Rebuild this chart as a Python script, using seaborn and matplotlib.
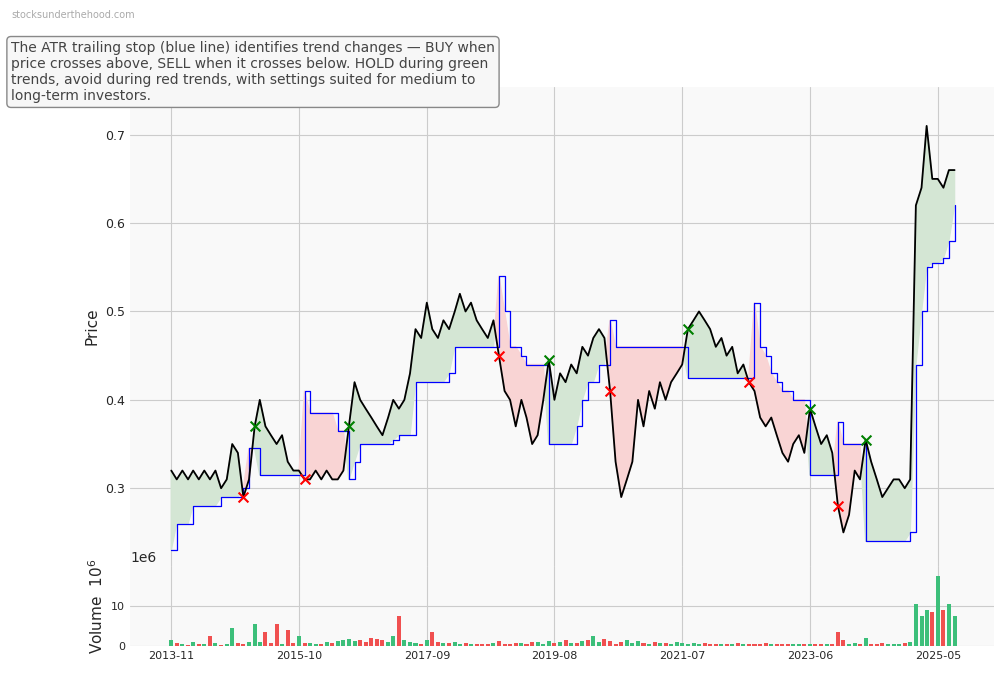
import numpy as np
import pandas as pd
import matplotlib
matplotlib.use("Agg")
import matplotlib.pyplot as plt
import matplotlib.ticker as mticker
import seaborn as sns

start_month = "2013-11"
price = [0.32,0.31,0.32,0.31,0.32,0.31,0.32,0.31,0.32,0.30,0.31,0.35,0.34,0.29,0.31,0.37,0.40,0.37,0.36,0.35,
         0.36,0.33,0.32,0.32,0.31,0.31,0.32,0.31,0.32,0.31,0.31,0.32,0.37,0.42,0.40,0.39,0.38,0.37,0.36,0.38,
         0.40,0.39,0.40,0.43,0.48,0.47,0.51,0.48,0.47,0.49,0.48,0.50,0.52,0.50,0.51,0.49,0.48,0.47,0.49,0.45,
         0.41,0.40,0.37,0.40,0.38,0.35,0.36,0.40,0.445,0.40,0.43,0.42,0.44,0.43,0.46,0.45,0.47,0.48,0.47,0.41,
         0.33,0.29,0.31,0.33,0.40,0.37,0.41,0.39,0.42,0.40,0.42,0.43,0.44,0.48,0.49,0.50,0.49,0.48,0.46,0.47,
         0.45,0.46,0.43,0.44,0.42,0.41,0.38,0.37,0.38,0.36,0.34,0.33,0.35,0.36,0.34,0.39,0.37,0.35,0.36,0.34,
         0.28,0.25,0.27,0.32,0.31,0.355,0.33,0.31,0.29,0.30,0.31,0.31,0.30,0.31,0.62,0.64,0.71,0.65,0.65,0.64,
         0.66,0.66]
stop = [0.23,0.26,0.26,0.26,0.28,0.28,0.28,0.28,0.28,0.29,0.29,0.29,0.29,0.30,0.345,0.345,0.315,0.315,0.315,0.315,
        0.315,0.315,0.315,0.315,0.41,0.385,0.385,0.385,0.385,0.385,0.365,0.365,0.31,0.33,0.35,0.35,0.35,0.35,0.35,0.35,
        0.355,0.36,0.36,0.36,0.42,0.42,0.42,0.42,0.42,0.42,0.43,0.46,0.46,0.46,0.46,0.46,0.46,0.46,0.46,0.54,
        0.50,0.46,0.46,0.45,0.44,0.44,0.44,0.44,0.35,0.35,0.35,0.35,0.35,0.37,0.40,0.42,0.42,0.44,0.44,0.49,
        0.46,0.46,0.46,0.46,0.46,0.46,0.46,0.46,0.46,0.46,0.46,0.46,0.46,0.425,0.425,0.425,0.425,0.425,0.425,0.425,
        0.425,0.425,0.425,0.425,0.425,0.51,0.46,0.45,0.43,0.42,0.41,0.41,0.40,0.40,0.40,0.315,0.315,0.315,0.315,0.315,
        0.375,0.35,0.35,0.35,0.35,0.24,0.24,0.24,0.24,0.24,0.24,0.24,0.24,0.25,0.44,0.50,0.55,0.555,0.555,0.56,
        0.58,0.62]
volume = [1.5,0.8,0.5,0.3,1.0,0.4,0.6,2.5,0.8,0.3,0.5,4.5,0.8,0.6,1.0,5.5,0.9,3.5,0.7,5.5,
          0.6,4.0,0.8,2.5,0.7,0.8,0.5,0.6,1.0,0.8,1.2,1.5,1.8,1.2,1.5,1.0,2.0,1.8,1.5,1.0,
          2.5,7.5,1.5,1.0,0.8,0.6,1.5,3.5,1.0,0.8,0.7,1.0,0.6,0.8,0.5,0.4,0.6,0.5,0.8,1.2,
          0.6,0.5,0.7,0.8,0.6,1.0,0.9,0.6,1.2,0.8,1.0,1.5,0.7,0.8,1.2,1.5,2.5,1.0,1.8,1.2,
          0.6,1.0,1.5,0.8,1.2,0.7,0.6,1.0,0.8,0.7,0.6,0.9,0.8,0.6,0.7,0.5,0.8,0.6,0.5,0.4,
          0.6,0.5,0.7,0.4,0.5,0.6,0.5,0.7,0.4,0.5,0.6,0.5,0.6,0.4,0.5,0.6,0.5,0.4,0.5,0.6,
          3.5,1.5,0.6,0.8,0.5,2.0,0.4,0.5,0.7,0.4,0.5,0.6,0.7,1.0,10.5,7.5,9.0,8.5,17.5,9.0,
          10.5,7.5]
tick_labels = ["2013-11","2015-10","2017-09","2019-08","2021-07","2023-06","2025-05"]
note = ("The ATR trailing stop (blue line) identifies trend changes — BUY when\n"
        "price crosses above, SELL when it crosses below. HOLD during green\n"
        "trends, avoid during red trends, with settings suited for medium to\n"
        "long-term investors.")

dates = pd.date_range(start_month + "-01", periods=len(price), freq="MS")
df = pd.DataFrame({"date": dates, "price": price, "stop": stop, "volume": np.array(volume) * 1e6})
p = df["price"].to_numpy(); s = df["stop"].to_numpy()
above = p >= s
buy = np.where(above[1:] & ~above[:-1])[0] + 1
sell = np.where(~above[1:] & above[:-1])[0] + 1
up = np.r_[True, p[1:] >= p[:-1]]

sns.set_style("whitegrid", {"axes.facecolor": "#f9f9f9", "grid.color": "#cccccc"})
fig = plt.figure(figsize=(10.04, 6.78), dpi=100)
ax = fig.add_axes([130/1004, 1-566/678, 864/1004, 479/678])
axv = fig.add_axes([130/1004, 1-646/678, 864/1004, 80/678], sharex=ax)

ax.fill_between(df["date"], p, s, where=above, color="#d4e6d4", interpolate=True)
ax.fill_between(df["date"], p, s, where=~above, color="#f9d4d4", interpolate=True)
sns.lineplot(data=df, x="date", y="stop", ax=ax, color="blue", lw=0.9, drawstyle="steps-post")
sns.lineplot(data=df, x="date", y="price", ax=ax, color="black", lw=1.3)
ax.scatter(df["date"].iloc[buy], p[buy], marker="x", color="green", s=50, zorder=5, lw=1.5)
ax.scatter(df["date"].iloc[sell], p[sell], marker="x", color="red", s=50, zorder=5, lw=1.5)
ax.set_ylim(0.212, 0.754)
ax.set_yticks([0.3, 0.4, 0.5, 0.6, 0.7])
ax.set_ylabel("Price", fontsize=11)
ax.set_xlabel("")
ax.tick_params(labelbottom=False, labelsize=9, length=0)
for sp in ax.spines.values(): sp.set_visible(False)

axv.bar(df["date"], df["volume"], width=22, linewidth=0, color=np.where(up, "#3cbf7a", "#f05050"))
axv.set_ylim(0, 19.9e6)
axv.set_yticks([0, 10e6])
fmt = mticker.ScalarFormatter(useMathText=False)
fmt.set_powerlimits((6, 6))
axv.yaxis.set_major_formatter(fmt)
axv.set_ylabel("Volume  $10^6$", fontsize=11)
ticks = pd.to_datetime([t + "-01" for t in tick_labels])
axv.set_xticks(ticks)
axv.set_xticklabels(tick_labels)
axv.set_xlim(pd.Timestamp("2013-03-20"), pd.Timestamp("2026-03-05"))
axv.tick_params(labelsize=8, length=0)
axv.yaxis.get_offset_text().set_fontsize(10)
for sp in axv.spines.values(): sp.set_visible(False)

fig.text(0.011, 0.985, "stocksunderthehood.com", fontsize=7, color="#aaaaaa", va="top")
fig.text(0.011, 0.94, note, fontsize=10, color="#444444", va="top",
         bbox=dict(boxstyle="round,pad=0.3", fc="#f7f7f7", ec="#888888"))
fig.savefig("out.png", dpi=100)
